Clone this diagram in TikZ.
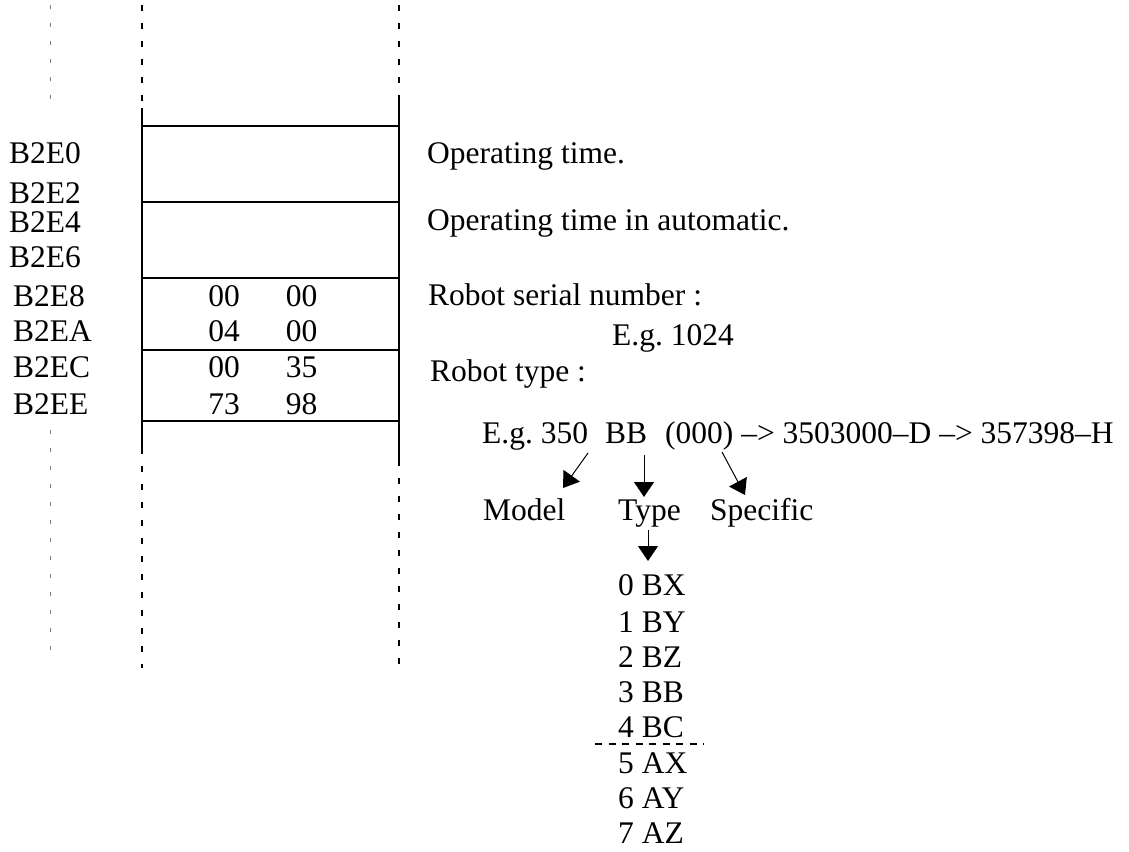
\documentclass[tikz,border=0pt]{standalone}
\usepackage{fontspec}
\setmainfont{Liberation Serif}
\usetikzlibrary{arrows.meta}
\frenchspacing
\begin{document}
\begin{tikzpicture}[x=1pt,y=-1pt,
  txt/.style={anchor=base west,inner sep=0pt,font=\fontsize{31.5}{38}\selectfont},
  ctxt/.style={anchor=base,inner sep=0pt,font=\fontsize{31.5}{38}\selectfont},
  wall/.style={line width=2.6pt},
  walldash/.style={line width=2.8pt,dash pattern=on 6pt off 12pt},
  thindash/.style={line width=0.9pt,gray,dash pattern=on 4pt off 14pt},
  arr/.style={line width=1pt,-{Triangle[length=15pt,width=20pt]}},
  sepdash/.style={line width=2pt,dash pattern=on 7pt off 6.5pt}]
\path[use as bounding box] (0,0) rectangle (1129,851);
% guide lines
\coordinate (g1) at (50,5);
\coordinate (g2) at (50,112);
\coordinate (g3) at (50,430);
\coordinate (g4) at (50,655);
\draw[thindash] (g1) -- (g2);
\draw[thindash] (g3) -- (g4);
% memory column
\coordinate (lt) at (142,5);
\coordinate (ls) at (142,108);
\coordinate (le) at (142,448);
\coordinate (lb) at (142,668);
\coordinate (rt) at (399,5);
\coordinate (rs) at (399,95);
\coordinate (re) at (399,460);
\coordinate (rb) at (399,668);
\draw[walldash] (lt) -- (ls);
\draw[walldash] (rt) -- (rs);
\draw[wall] (ls) -- (le);
\draw[wall] (rs) -- (re);
\draw[walldash] (le) -- (lb);
\draw[walldash] (re) -- (rb);
\foreach \y in {126,202,278,350,421}
  \draw[wall] (142,\y) -- (399,\y);
% addresses
\node[txt] (a0) at (9,163) {B2E0};
\node[txt] (a2) at (9,203) {B2E2};
\node[txt] (a4) at (9,232) {B2E4};
\node[txt] (a6) at (9,267) {B2E6};
\node[txt] (a8) at (13,306.5) {B2E8};
\node[txt] (aA) at (13,341.5) {B2EA};
\node[txt] (aC) at (13,377) {B2EC};
\node[txt] (aE) at (13,414.5) {B2EE};
% values
\node[ctxt] (v1) at (224,306.5) {00};
\node[ctxt] (v2) at (301.5,306.5) {00};
\node[ctxt] (v3) at (224,341.5) {04};
\node[ctxt] (v4) at (301.5,341.5) {00};
\node[ctxt] (v5) at (224,377) {00};
\node[ctxt] (v6) at (301.5,377) {35};
\node[ctxt] (v7) at (224,414.5) {73};
\node[ctxt] (v8) at (301.5,414.5) {98};
% descriptions
\node[txt] (d1) at (427,163) {Operating time.};
\node[txt] (d2) at (427,230) {Operating time in automatic.};
\node[txt] (d3) at (428,305) {Robot serial number :};
\node[txt] (d4) at (612,345) {E.g. 1024};
\node[txt] (d5) at (430,381) {Robot type :};
\node[txt] (e1) at (482,443) {E.g. 350};
\node[txt] (e2) at (605,443) {BB};
\node[txt] (e3) at (665,443) {(000) –> 3503000–D –> 357398–H};
\node[txt] (m1) at (483,520) {Model};
\node[txt] (m2) at (618,520) {Type};
\node[txt] (m3) at (710,520) {Specific};
% arrows
\coordinate (s1) at (588,453);
\coordinate (t1) at (563,488);
\coordinate (s2) at (644,455);
\coordinate (t2) at (644,497);
\coordinate (s3) at (722,452);
\coordinate (t3) at (745,495);
\coordinate (s4) at (648,530);
\coordinate (t4) at (648,561);
\draw[arr] (s1) -- (t1);
\draw[arr] (s2) -- (t2);
\draw[arr] (s3) -- (t3);
\draw[arr] (s4) -- (t4);
% type list
\node[txt] (l0) at (618,595) {0 BX};
\node[txt] (l1) at (618,632) {1 BY};
\node[txt] (l2) at (618,667) {2 BZ};
\node[txt] (l3) at (618,702) {3 BB};
\node[txt] (l4) at (618,737) {4 BC};
\node[txt] (l5) at (618,773) {5 AX};
\node[txt] (l6) at (618,808) {6 AY};
\node[txt] (l7) at (618,843) {7 AZ};
\coordinate (sd1) at (595,744);
\coordinate (sd2) at (704,744);
\draw[sepdash] (sd1) -- (sd2);
\end{tikzpicture}
\end{document}
